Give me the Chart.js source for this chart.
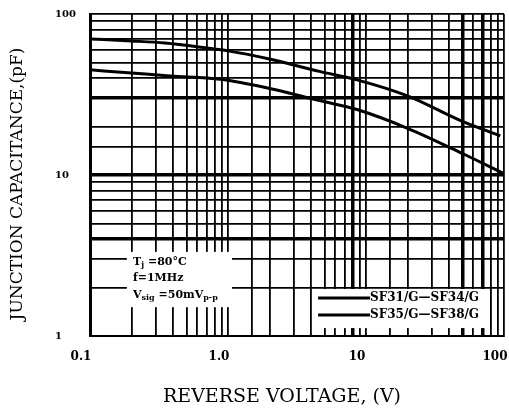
<!DOCTYPE html>
<html lang="en">
<head>
  <meta charset="UTF-8">
  <title>Junction Capacitance vs Reverse Voltage</title>
  <style>
    html, body { margin: 0; padding: 0; background: #fff; }
    #wrap { width: 509px; height: 408px; }
  </style>
</head>
<body>
  <div id="wrap"><canvas id="capChart"></canvas></div>

  <script src="https://cdn.jsdelivr.net/npm/chart.js"></script>
  <script>
    // Curves (V, pF)
    const voltsA = [0.1, 0.2, 0.35, 0.7, 1, 2, 4.6, 8.6, 20, 50, 94];
    const capA   = [70, 68, 66, 61.5, 59, 52.5, 44, 39, 31, 21.5, 17.5];
    const voltsB = [0.1, 0.2, 0.38, 0.88, 2, 4.6, 8.6, 20, 50, 100];
    const capB   = [45, 43, 41.2, 39.3, 34.5, 29, 25.5, 19.5, 13.6, 10.2];
    const seriesNames = ['SF31/G\u2014SF34/G', 'SF35/G\u2014SF38/G'];

    // Axis labels (only the decades carry text)
    const xDecades = [0.1, 1, 10, 100];
    const xDecadeLabels = ['0.1', '1.0', '10', '100'];
    const yDecades = [1, 10, 100];
    const yDecadeLabels = ['1', '10', '100'];

    // Grid lines that print darker in the original
    const heavyX = [8, 50, 70];
    const heavyY = [4, 10, 30];

    const same = (a, b) => Math.abs(a / b - 1) < 1e-6;
    const decadeLabel = (v, decs, labels) => {
      const i = decs.findIndex(d => same(v, d));
      return i >= 0 ? labels[i] : '';
    };

    const titleFont = '"DejaVu Serif", serif';

    // Draws text with subscript parts: [[text, isSub], ...]
    function drawRuns(ctx, runs, x, y) {
      runs.forEach(([txt, sub]) => {
        ctx.font = sub ? 'bold 8px ' + titleFont : 'bold 11px ' + titleFont;
        ctx.fillText(txt, x, sub ? y + 3 : y);
        x += ctx.measureText(txt).width;
      });
    }

    const decorations = {
      id: 'decorations',
      beforeDatasetsDraw(chart) {
        const { ctx, scales: { x, y } } = chart;
        ctx.save();
        ctx.fillStyle = '#fff';
        // test conditions box
        const nx0 = x.getPixelForValue(0.185), nx1 = x.getPixelForValue(1.07);
        const ny0 = y.getPixelForValue(3.33), ny1 = y.getPixelForValue(1.51);
        ctx.fillRect(nx0, ny0, nx1 - nx0, ny1 - ny0);
        // legend box
        const lx0 = x.getPixelForValue(4) + 1.5, lx1 = x.getPixelForValue(80) - 1.5;
        const ly0 = y.getPixelForValue(2) + 1.5, ly1 = y.getPixelForValue(1.12);
        ctx.fillRect(lx0, ly0, lx1 - lx0, ly1 - ly0);
        ctx.restore();
      },
      afterDraw(chart) {
        const { ctx, scales: { x, y } } = chart;
        ctx.save();
        ctx.fillStyle = '#000';
        ctx.textBaseline = 'middle';

        // conditions
        const tx = x.getPixelForValue(0.205);
        drawRuns(ctx, [['T', false], ['j', true], [' =80\u00B0C', false]], tx, 262);
        drawRuns(ctx, [['f=1MHz', false]], tx, 278);
        drawRuns(ctx, [['V', false], ['sig', true], [' =50mV', false], ['p-p', true]], tx, 295);

        // legend
        const lx = x.getPixelForValue(4) + 7;
        const rows = [298, 315];
        chart.data.datasets.forEach((ds, i) => {
          ctx.strokeStyle = ds.borderColor;
          ctx.lineWidth = ds.borderWidth;
          ctx.beginPath();
          ctx.moveTo(lx, rows[i]);
          ctx.lineTo(lx + 52, rows[i]);
          ctx.stroke();
          ctx.font = 'bold 12px ' + titleFont;
          ctx.fillText(ds.label, lx + 52, rows[i]);
        });

        // axis titles
        ctx.font = '19px ' + titleFont;
        ctx.textAlign = 'center';
        ctx.fillText('REVERSE VOLTAGE, (V)', 282, 397);
        ctx.translate(18, 184);
        ctx.rotate(-Math.PI / 2);
        ctx.font = '17px ' + titleFont;
        ctx.fillText('JUNCTION CAPACITANCE,(pF)', 0, 0);
        ctx.restore();
      }
    };

    const ctx = document.getElementById('capChart').getContext('2d');
    new Chart(ctx, {
      type: 'line',
      data: {
        datasets: [
          {
            label: seriesNames[0],
            data: voltsA.map((v, i) => ({ x: v, y: capA[i] })),
            borderColor: '#000',
            borderWidth: 3,
            pointRadius: 0,
            cubicInterpolationMode: 'monotone'
          },
          {
            label: seriesNames[1],
            data: voltsB.map((v, i) => ({ x: v, y: capB[i] })),
            borderColor: '#000',
            borderWidth: 3,
            pointRadius: 0,
            cubicInterpolationMode: 'monotone'
          }
        ]
      },
      options: {
        responsive: true,
        maintainAspectRatio: false,
        animation: false,
        layout: { padding: { left: 55, top: 14, right: 5, bottom: 0 } },
        plugins: { legend: { display: false }, tooltip: { enabled: false } },
        scales: {
          x: {
            type: 'logarithmic',
            min: 0.1,
            max: 100,
            grid: {
              color: '#000',
              drawTicks: false,
              lineWidth: c => (c.tick && heavyX.some(t => same(c.tick.value, t))) ? 3.5 : 1.8
            },
            border: { display: true, color: '#000', width: 2 },
            ticks: {
              autoSkip: false,
              maxRotation: 0,
              padding: 14,
              labelOffset: -9,
              color: '#000',
              font: { family: titleFont, size: 12, weight: 'bold' },
              callback: v => decadeLabel(v, xDecades, xDecadeLabels)
            },
            afterFit: s => { s.height = 72; s.paddingLeft = 0; s.paddingRight = 0; }
          },
          y: {
            type: 'logarithmic',
            min: 1,
            max: 100,
            grid: {
              color: '#000',
              drawTicks: false,
              lineWidth: c => (c.tick && heavyY.some(t => same(c.tick.value, t))) ? 3.5 : 1.8
            },
            border: { display: true, color: '#000', width: 3 },
            ticks: {
              autoSkip: false,
              crossAlign: 'far',
              padding: 0,
              color: '#000',
              font: { family: titleFont, size: 10, weight: 'bold' },
              callback: v => decadeLabel(v, yDecades, yDecadeLabels)
            },
            afterFit: s => { s.width = 35; s.paddingTop = 0; s.paddingBottom = 0; }
          }
        }
      },
      plugins: [decorations]
    });
  </script>
</body>
</html>
